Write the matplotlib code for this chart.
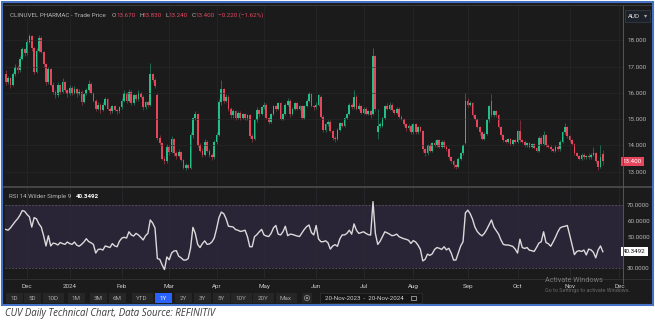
import numpy as np
import matplotlib
matplotlib.use("Agg")
import matplotlib.pyplot as plt
from matplotlib.patches import Rectangle, Circle

# ---- data (one candle per trading day, 20-Nov-2023 .. 20-Nov-2024) ----
opens = [
    16.70, 16.40, 16.55, 16.30, 16.70, 17.00, 16.85, 17.30, 17.65, 17.50,
    17.95, 18.15, 17.70, 16.80, 17.60, 18.10, 17.55, 17.10, 16.40, 16.90,
    16.30, 16.05, 15.90, 16.30, 16.05, 16.40, 16.10, 15.95, 16.20, 16.00,
    16.15, 15.95, 16.05, 15.65, 15.95, 16.10, 16.35, 16.00, 15.70, 15.40,
    15.55, 15.35, 15.55, 15.75, 15.40, 15.30, 15.50, 15.35, 15.30, 15.45,
    15.70, 16.00, 15.70, 16.05, 15.60, 15.90, 15.75, 16.00, 15.85, 15.45,
    15.65, 15.55, 16.70, 16.50, 15.90, 14.30, 14.10, 13.50, 13.40, 13.95,
    13.75, 14.25, 13.70, 13.60, 13.75, 13.45, 13.15, 13.25, 13.15, 14.40,
    15.05, 15.20, 14.00, 13.80, 13.65, 14.15, 13.80, 13.65, 13.55, 14.15,
    14.40, 15.65, 16.15, 15.70, 15.85, 15.40, 15.15, 15.30, 15.05, 15.25,
    15.05, 15.20, 15.05, 15.15, 14.35, 14.25, 14.95, 15.35, 15.20, 15.45,
    15.55, 15.05, 14.90, 15.20, 15.50, 15.40, 15.60, 15.00, 15.20, 15.55,
    15.70, 15.20, 15.40, 15.60, 15.40, 15.50, 15.05, 15.50, 15.70, 15.95,
    15.50, 15.45, 15.55, 15.85, 15.10, 14.60, 14.80, 14.90, 14.55, 14.30,
    14.25, 14.60, 14.85, 14.75, 15.05, 15.20, 15.55, 15.45, 15.85, 15.40,
    15.50, 15.25, 15.40, 15.20, 15.30, 15.20, 17.40, 14.50, 14.75, 14.75,
    15.05, 15.50, 15.40, 15.55, 15.35, 15.25, 15.40, 15.10, 15.00, 14.80,
    14.65, 14.75, 14.50, 14.80, 14.50, 14.70, 14.55, 13.85, 13.70, 14.00,
    13.80, 14.10, 14.00, 14.20, 13.95, 14.15, 13.95, 13.85, 13.55, 13.40,
    13.25, 13.20, 13.50, 13.70, 14.10, 15.70, 15.55, 15.60, 15.15, 15.00,
    14.70, 14.50, 14.25, 14.45, 14.95, 15.70, 15.15, 15.30, 15.15, 14.70,
    14.40, 14.20, 14.15, 14.25, 14.05, 14.20, 14.15, 14.55, 14.20, 14.15,
    14.00, 14.10, 13.95, 14.05, 13.90, 13.80, 14.30, 14.05, 14.40, 14.00,
    13.95, 13.85, 13.80, 13.95, 13.85, 14.15, 14.50, 14.70, 14.35, 14.20,
    14.05, 13.70, 13.60, 13.50, 13.65, 13.55, 13.60, 13.55, 13.65, 13.70,
    13.40, 13.20, 13.67,
]
highs = [
    16.85, 16.65, 16.60, 16.80, 17.10, 17.05, 17.40, 17.75, 17.70, 18.05,
    18.25, 18.20, 17.75, 17.70, 18.20, 18.15, 17.60, 17.15, 17.00, 16.95,
    16.40, 16.10, 16.40, 16.35, 16.55, 16.45, 16.15, 16.30, 16.25, 16.25,
    16.20, 16.15, 16.10, 16.00, 16.20, 16.50, 16.40, 16.05, 15.75, 15.65,
    15.60, 15.65, 15.85, 15.80, 15.45, 15.55, 15.55, 15.40, 15.50, 15.80,
    16.10, 16.05, 16.15, 16.10, 15.95, 15.95, 16.10, 16.05, 15.90, 15.70,
    15.70, 17.15, 16.75, 16.55, 16.00, 14.40, 14.15, 13.60, 14.05, 14.00,
    14.35, 14.30, 13.80, 13.85, 13.80, 13.50, 13.35, 13.30, 14.50, 15.10,
    15.30, 15.25, 14.10, 13.90, 14.25, 14.20, 13.85, 13.70, 14.20, 14.50,
    15.75, 16.50, 16.20, 15.95, 15.90, 15.45, 15.40, 15.35, 15.30, 15.30,
    15.25, 15.25, 15.20, 15.20, 14.45, 15.00, 15.45, 15.40, 15.50, 15.65,
    15.60, 15.10, 15.25, 15.55, 15.55, 15.65, 15.65, 15.25, 15.60, 15.80,
    15.75, 15.45, 15.65, 15.65, 15.55, 15.55, 15.55, 15.75, 16.05, 16.00,
    15.55, 15.65, 15.95, 15.90, 15.15, 14.85, 14.95, 14.95, 14.60, 14.35,
    14.65, 14.90, 14.90, 15.10, 15.25, 15.60, 15.60, 16.10, 15.90, 15.60,
    15.55, 15.45, 15.45, 15.35, 15.35, 17.70, 17.45, 15.40, 14.90, 15.10,
    15.55, 15.60, 15.65, 15.60, 15.40, 15.45, 15.45, 15.15, 15.05, 14.85,
    14.80, 14.80, 14.85, 14.85, 14.75, 14.75, 14.60, 13.90, 14.05, 14.05,
    14.15, 14.20, 14.25, 14.25, 14.20, 14.20, 14.00, 13.90, 13.60, 13.45,
    13.30, 13.55, 13.75, 14.05, 16.00, 15.80, 15.70, 15.65, 15.20, 15.05,
    14.75, 14.55, 14.50, 15.00, 15.55, 15.95, 15.35, 15.35, 15.20, 14.75,
    14.45, 14.25, 14.30, 14.30, 14.25, 14.25, 14.60, 14.95, 14.25, 14.20,
    14.15, 14.15, 14.10, 14.10, 13.95, 14.35, 14.35, 14.55, 14.45, 14.05,
    14.00, 13.90, 14.00, 14.00, 14.20, 14.55, 14.85, 14.75, 14.40, 14.25,
    14.10, 13.75, 13.65, 13.70, 13.70, 13.65, 13.70, 13.70, 13.95, 13.75,
    13.45, 14.00, 13.83,
]
lows = [
    16.30, 16.35, 16.20, 16.25, 16.65, 16.75, 16.80, 17.25, 17.40, 17.45,
    17.90, 17.60, 16.70, 16.75, 17.55, 17.50, 17.00, 16.30, 16.35, 16.25,
    15.95, 15.80, 15.85, 15.95, 16.00, 16.05, 15.85, 15.90, 15.90, 15.95,
    15.85, 15.90, 15.55, 15.60, 15.90, 16.05, 15.95, 15.65, 15.30, 15.35,
    15.25, 15.30, 15.50, 15.35, 15.20, 15.25, 15.30, 15.20, 15.25, 15.40,
    15.65, 15.60, 15.65, 15.55, 15.55, 15.70, 15.70, 15.80, 15.35, 15.40,
    15.45, 15.50, 16.40, 16.20, 14.20, 14.00, 13.45, 13.30, 13.35, 13.65,
    13.70, 13.60, 13.50, 13.55, 13.40, 13.10, 13.05, 13.10, 13.10, 14.30,
    14.95, 13.95, 13.75, 13.55, 13.60, 13.75, 13.55, 13.45, 13.50, 14.05,
    14.35, 15.55, 15.60, 15.65, 15.30, 15.05, 15.05, 14.95, 15.00, 14.95,
    15.00, 14.95, 14.95, 14.30, 14.15, 14.20, 14.90, 15.10, 15.15, 15.40,
    15.00, 14.80, 14.85, 15.15, 15.30, 15.35, 14.95, 14.95, 15.15, 15.50,
    15.10, 15.15, 15.35, 15.35, 15.35, 15.00, 15.00, 15.45, 15.65, 15.45,
    15.35, 15.40, 15.50, 15.05, 14.50, 14.50, 14.75, 14.50, 14.20, 14.15,
    14.20, 14.55, 14.70, 14.70, 15.00, 15.15, 15.40, 15.40, 15.35, 15.35,
    15.20, 15.20, 15.15, 15.15, 15.05, 15.15, 15.30, 14.25, 14.65, 14.70,
    15.00, 15.35, 15.35, 15.30, 15.20, 15.20, 15.05, 14.95, 14.75, 14.55,
    14.60, 14.45, 14.45, 14.45, 14.45, 14.50, 13.75, 13.60, 13.65, 13.75,
    13.75, 13.95, 13.95, 13.90, 13.90, 13.90, 13.80, 13.50, 13.35, 13.15,
    13.10, 13.15, 13.45, 13.65, 14.05, 15.45, 15.50, 15.10, 14.95, 14.65,
    14.40, 14.20, 14.20, 14.40, 14.90, 15.10, 15.10, 15.10, 14.65, 14.35,
    14.15, 14.10, 14.10, 14.00, 14.00, 14.10, 14.10, 14.15, 14.10, 13.95,
    13.95, 13.90, 13.90, 13.85, 13.75, 13.75, 14.00, 14.00, 13.95, 13.90,
    13.80, 13.75, 13.75, 13.80, 13.80, 14.10, 14.45, 14.30, 14.15, 14.00,
    13.65, 13.55, 13.45, 13.45, 13.50, 13.50, 13.50, 13.50, 13.60, 13.35,
    13.06, 13.15, 13.24,
]
closes = [
    16.40, 16.55, 16.30, 16.70, 17.00, 16.85, 17.30, 17.65, 17.50, 17.95,
    18.15, 17.70, 16.80, 17.60, 18.10, 17.55, 17.10, 16.40, 16.90, 16.30,
    16.05, 15.90, 16.30, 16.05, 16.40, 16.10, 15.95, 16.20, 16.00, 16.15,
    15.95, 16.05, 15.65, 15.95, 16.10, 16.35, 16.00, 15.70, 15.40, 15.55,
    15.35, 15.55, 15.75, 15.40, 15.30, 15.50, 15.35, 15.30, 15.45, 15.70,
    16.00, 15.70, 16.05, 15.60, 15.90, 15.75, 16.00, 15.85, 15.45, 15.65,
    15.55, 16.70, 16.50, 16.25, 14.30, 14.10, 13.50, 13.40, 13.95, 13.75,
    14.25, 13.70, 13.60, 13.75, 13.45, 13.15, 13.25, 13.15, 14.40, 15.05,
    15.20, 14.00, 13.80, 13.65, 14.15, 13.80, 13.65, 13.55, 14.15, 14.40,
    15.65, 16.15, 15.70, 15.85, 15.40, 15.15, 15.30, 15.05, 15.25, 15.05,
    15.20, 15.05, 15.15, 14.35, 14.25, 14.95, 15.35, 15.20, 15.45, 15.55,
    15.05, 14.90, 15.20, 15.50, 15.40, 15.60, 15.00, 15.20, 15.55, 15.70,
    15.20, 15.40, 15.60, 15.40, 15.50, 15.05, 15.50, 15.70, 15.95, 15.50,
    15.45, 15.55, 15.90, 15.10, 14.60, 14.80, 14.90, 14.55, 14.30, 14.25,
    14.60, 14.85, 14.75, 15.05, 15.20, 15.55, 15.45, 15.85, 15.40, 15.50,
    15.25, 15.40, 15.20, 15.30, 15.15, 17.40, 15.40, 14.75, 14.80, 15.05,
    15.50, 15.40, 15.55, 15.35, 15.25, 15.40, 15.10, 15.00, 14.80, 14.65,
    14.75, 14.50, 14.80, 14.50, 14.70, 14.55, 13.85, 13.70, 14.00, 13.80,
    14.10, 14.00, 14.20, 13.95, 14.15, 13.95, 13.85, 13.55, 13.40, 13.25,
    13.20, 13.50, 13.70, 14.00, 15.70, 15.55, 15.60, 15.15, 15.00, 14.70,
    14.50, 14.25, 14.45, 14.95, 15.50, 15.15, 15.30, 15.15, 14.70, 14.40,
    14.20, 14.15, 14.25, 14.05, 14.20, 14.15, 14.55, 14.20, 14.15, 14.00,
    14.10, 13.95, 14.05, 13.90, 13.80, 14.30, 14.05, 14.40, 14.00, 13.95,
    13.85, 13.80, 13.95, 13.85, 14.15, 14.50, 14.70, 14.35, 14.20, 14.05,
    13.70, 13.60, 13.50, 13.65, 13.55, 13.60, 13.55, 13.65, 13.70, 13.40,
    13.20, 13.55, 13.40,
]
rsi = [
    54.5, 54.0, 55.5, 57.5, 59.5, 61.2, 63.5, 66.5, 66.0, 64.0,
    62.5, 56.0, 62.0, 61.2, 58.0, 56.0, 50.5, 44.0, 50.5, 44.0,
    45.8, 45.5, 44.6, 46.2, 45.5, 45.0, 46.5, 45.5, 45.0, 46.5,
    44.5, 43.8, 45.0, 46.5, 48.6, 46.8, 46.0, 45.0, 39.5, 41.8,
    42.0, 41.4, 44.0, 43.5, 43.0, 45.5, 44.0, 43.5, 47.0, 49.0,
    49.5, 49.0, 53.0, 51.0, 50.3, 52.0, 51.0, 49.5, 47.8, 50.5,
    52.0, 60.5, 58.6, 55.4, 36.0, 35.5, 32.0, 29.0, 37.0, 35.2,
    39.5, 40.8, 41.0, 37.5, 36.5, 35.1, 35.0, 36.0, 42.5, 55.8,
    52.0, 45.0, 43.0, 45.5, 47.2, 45.0, 45.3, 46.5, 49.0, 55.0,
    62.0, 65.5, 64.5, 61.3, 56.5, 56.3, 56.0, 54.4, 54.0, 53.2,
    53.5, 54.0, 50.0, 43.5, 43.5, 49.9, 51.2, 53.0, 54.5, 51.0,
    50.3, 50.0, 52.0, 55.5, 57.0, 51.5, 51.0, 53.0, 56.5, 50.5,
    51.5, 51.3, 50.8, 50.3, 50.0, 52.3, 54.5, 56.3, 57.3, 52.5,
    51.0, 57.0, 48.5, 46.7, 46.7, 47.3, 46.0, 42.0, 44.0, 44.8,
    43.8, 48.5, 51.0, 51.0, 52.0, 54.0, 51.5, 58.0, 54.0, 52.0,
    52.5, 53.0, 52.0, 51.2, 50.9, 72.1, 52.0, 45.0, 47.0, 50.0,
    53.0, 52.3, 51.5, 50.5, 50.8, 51.5, 49.9, 49.2, 48.6, 48.2,
    47.6, 45.6, 47.4, 46.5, 44.5, 41.8, 34.5, 35.5, 38.8, 38.0,
    39.0, 41.8, 43.0, 42.5, 41.8, 43.5, 41.5, 42.5, 39.5, 35.0,
    35.1, 39.5, 44.0, 46.7, 65.0, 66.7, 64.5, 61.0, 56.0, 53.2,
    51.5, 50.4, 52.0, 54.5, 57.5, 60.5, 56.0, 53.8, 51.5, 47.8,
    45.0, 44.6, 44.6, 44.2, 43.7, 42.0, 39.5, 48.3, 43.0, 42.4,
    43.0, 41.3, 41.0, 40.5, 43.0, 45.8, 46.7, 53.0, 46.2, 45.4,
    43.8, 46.5, 49.5, 53.0, 55.5, 56.2, 56.5, 57.0, 51.0, 44.6,
    38.5, 40.5, 41.0, 40.5, 41.4, 38.3, 42.0, 41.5, 40.0, 36.5,
    41.4, 44.0, 40.35,
]

month_ticks = [9, 27, 49, 69, 89, 109, 131, 151, 172, 195, 216, 238, 259]
month_labels = ["Dec", "2024", "Feb", "Mar", "Apr", "May", "Jun",
                "Jul", "Aug", "Sep", "Oct", "Nov", "Dec"]
price_ticks = [13, 14, 15, 16, 17, 18]
rsi_ticks = [30, 50, 60, 70]
last_rsi = 40.3492
ranges = ["1D", "5D", "10D", "1M", "3M", "6M", "YTD", "1Y",
          "2Y", "3Y", "5Y", "10Y", "20Y", "Max"]

# ---- styling ----
W, H = 655, 322
UP = "#22bf88"
DOWN = "#e6455c"
BG = "#1b1b1b"
TXT = "#b5b5b5"
GRID = "#272727"
FS = 4.5

plt.rcParams["font.family"] = ["Roboto", "DejaVu Sans"]


def px_axes(fig, x0, y0, x1, y1):
    # axes placed by pixel box (y measured from top)
    return fig.add_axes([x0 / W, 1 - y1 / H, (x1 - x0) / W, (y1 - y0) / H])


def pixel_canvas(ax):
    ax.set_xlim(0, W)
    ax.set_ylim(H, 0)
    ax.axis("off")
    return ax


fig = plt.figure(figsize=(W / 100, H / 100), dpi=100)
fig.patch.set_facecolor("white")

bg = pixel_canvas(px_axes(fig, 0, 0, W, H))
bg.add_patch(Rectangle((1.5, 1.5), 651, 303, fc=BG, ec="#4472c4", lw=1.5))
bg.plot([4, 651], [5, 5], color="#3a3a3a", lw=0.8)

n = len(closes)
idx = np.arange(n)
o = np.array(opens)
h = np.array(highs)
l = np.array(lows)
c = np.array(closes)
cols = np.where(c >= o, UP, DOWN)
xlim = (-0.3, 260.5)

# ---- price panel ----
ax = px_axes(fig, 5, 6, 623, 186)
ax.set_facecolor(BG)
ax.vlines(idx, l, h, colors=cols, lw=0.6, alpha=0.55)
ax.bar(idx, np.maximum(np.abs(c - o), 0.03), bottom=np.minimum(o, c),
       width=0.74, color=cols, lw=0)
ax.set_xlim(*xlim)
ax.set_ylim(12.46, 19.30)
ax.set_xticks(month_ticks)
ax.set_xticklabels([])
ax.yaxis.tick_right()
ax.set_yticks(price_ticks)
ax.set_yticklabels(["%.3f" % v for v in price_ticks])
ax.tick_params(length=0, pad=3, labelsize=FS, labelcolor=TXT)
ax.grid(True, color=GRID, lw=0.5)
for s in ax.spines.values():
    s.set_visible(False)
ax.text(1.0, closes[-1], "%.3f" % closes[-1], transform=ax.get_yaxis_transform(),
        ha="left", va="center", fontsize=FS, color="white",
        bbox=dict(boxstyle="square,pad=0.35", fc=DOWN, ec="none"))

# ---- RSI panel ----
ax2 = px_axes(fig, 5, 188, 623, 278)
ax2.set_facecolor(BG)
ax2.axhspan(30, 70, color="#2a2437", lw=0)
for lvl in (30, 70):
    ax2.axhline(lvl, color="#5d5868", lw=0.6, ls=(0, (2, 2)))
ax2.plot(idx, rsi, color="#dadada", lw=1.0)
ax2.set_xlim(*xlim)
ax2.set_ylim(23.65, 80.8)
ax2.set_xticks(month_ticks)
ax2.set_xticklabels(month_labels)
ax2.yaxis.tick_right()
ax2.set_yticks(rsi_ticks)
ax2.set_yticklabels(["%.4f" % v for v in rsi_ticks])
ax2.tick_params(length=0, pad=3, labelsize=FS, labelcolor=TXT)
ax2.tick_params(axis="x", pad=4.0, labelcolor="#cccccc")
ax2.grid(True, axis="x", color="#2c2a33", lw=0.5)
for s in ax2.spines.values():
    s.set_visible(False)
ax2.text(1.0, last_rsi, "%.4f" % last_rsi, transform=ax2.get_yaxis_transform(),
         ha="left", va="center", fontsize=FS, color="#111111",
         bbox=dict(boxstyle="square,pad=0.35", fc="white", ec="none"))

# ---- overlay: separators, headers, widgets ----
ov = pixel_canvas(px_axes(fig, 0, 0, W, H))
ov.plot([4, 651], [187, 187], color="#4d4d4d", lw=1.2)
ov.plot([4, 651], [278.5, 278.5], color="#333333", lw=0.6)
ov.plot([623, 623], [6, 283], color="#555555", lw=0.7)

red_txt = "#e0485e"
head = [(10, "CLINUVEL PHARMAC - Trade Price", TXT),
        (112, "O", TXT), (116.5, "13.670", red_txt),
        (139, "H", TXT), (143, "13.830", red_txt),
        (165.5, "L", TXT), (169, "13.240", red_txt),
        (192, "C", TXT), (196, "13.400", red_txt),
        (218, "\u22120.220 (\u22121.62%)", red_txt)]
for x, s, col in head:
    ov.text(x, 15.5, s, fontsize=FS, color=col, va="center", ha="left")

ov.text(9, 196, "RSI 14 Wilder Simple 9", fontsize=FS, color=TXT, va="center")
ov.text(76, 196, "%.4f" % last_rsi, fontsize=FS, color="white",
        fontweight="bold", va="center")

ov.add_patch(Rectangle((625, 9.5), 25, 12.5, fc="#1d2129", ec="#3b404c", lw=0.5))
ov.text(628, 16, "AUD", fontsize=FS, color="#dddddd", va="center")
ov.text(643.5, 16, "\u25be", fontsize=FS, color="#aaaaaa", va="center")

# range buttons
centers = [14, 32, 53, 76, 98, 117, 142, 163, 183, 202, 221, 241, 263, 286]
for cx, lab in zip(centers, ranges):
    w = 17 if len(lab) < 3 else 21
    sel = lab == "1Y"
    ov.add_patch(Rectangle((cx - w / 2, 293), w, 10,
                           fc="#2962ff" if sel else "#262626", ec="none"))
    ov.text(cx, 298.2, lab, fontsize=FS, color="white" if sel else "#a8a8a8",
            ha="center", va="center")
ov.add_patch(Rectangle((302, 293), 10, 10, fc="#262626", ec="none"))
ov.add_patch(Circle((307, 298), 2.6, fc="none", ec="#9a9a9a", lw=0.5))
ov.add_patch(Circle((307, 298), 1.1, fc="#9a9a9a", ec="none"))
ov.add_patch(Rectangle((320, 293), 102, 10, fc="#161616", ec="#333333", lw=0.5))
ov.text(364, 298.2, "20-Nov-2023  -  20-Nov-2024", fontsize=FS, color="#cfcfcf",
        ha="center", va="center")
ov.add_patch(Rectangle((411, 295.5), 5, 4.5, fc="none", ec="#bbbbbb", lw=0.5))

# windows activation watermark present in the screenshot
ov.text(545, 280.0, "Activate Windows", fontsize=5.2, color="#7a7a7a", va="center")
ov.text(545, 290.5, "Go to Settings to activate Windows.", fontsize=3.9,
        color="#6a6a6a", va="center")

# caption under the screenshot
ov.text(5, 313.5, "CUV Daily Technical Chart, Data Source: REFINITIV",
        fontsize=6.9, style="italic", color="#3a3a3a", va="center",
        family=["Open Sans", "DejaVu Sans"])

fig.savefig("out.png", dpi=100, facecolor="white")
